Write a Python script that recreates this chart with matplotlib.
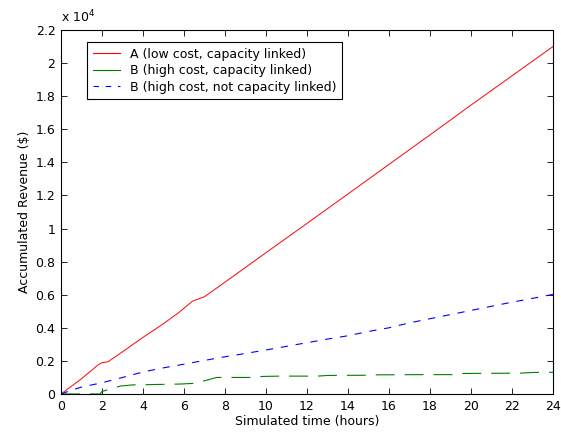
import matplotlib
matplotlib.use("Agg")
import matplotlib.pyplot as plt
from matplotlib.lines import Line2D

plt.rcParams['font.family'] = ['DejaVu Sans']
plt.rcParams['mathtext.default'] = 'regular'

# revenue curves (hours, $)
hours_a = [0, 1, 1.8, 2.0, 2.3, 3, 4, 5, 5.8, 6.4, 7.0, 8, 10, 12, 14, 15.5, 18, 20, 22, 24]
rev_a = [0, 920, 1750, 1890, 1950, 2550, 3420, 4250, 4970, 5600, 5880, 6760, 8540, 10310, 12090, 13430, 15660, 17460, 19230, 21000]

hours_b = [0, 1.2, 1.9, 2.0, 2.9, 3.5, 4.0, 5.8, 6.6, 7.0, 7.6, 9.6, 9.8, 10.7, 12.5, 13.0, 13.7, 15.0, 15.5, 16.1, 17.5, 19.1, 19.5, 21.0, 22.4, 23.0, 24.0]
rev_b = [0, 0, 0, 150, 480, 550, 560, 600, 650, 800, 1000, 1000, 1060, 1080, 1080, 1120, 1130, 1130, 1160, 1160, 1170, 1170, 1240, 1250, 1260, 1300, 1310]

hours_c = [0, 0.5, 1, 2, 3, 4, 5, 6, 7, 8, 9, 10, 11, 12, 13, 14, 15, 16, 17, 18, 19, 20, 21, 22, 23, 24]
rev_c = [0, 220, 420, 680, 1000, 1330, 1580, 1800, 2030, 2250, 2450, 2660, 2880, 3100, 3320, 3520, 3780, 4000, 4300, 4550, 4800, 5050, 5300, 5550, 5780, 6020]

xticks = list(range(0, 25, 2))
yticks = [i * 0.2 for i in range(12)]

fs = 9

fig = plt.figure(figsize=(5.61, 4.33), dpi=100)
ax = fig.add_axes([0.1087, 0.0901, 0.877, 0.8406])

ax.plot(hours_a, [v / 1e4 for v in rev_a], color='#ff0000', linewidth=0.7)
ax.plot(hours_b, [v / 1e4 for v in rev_b], color='#008000', linewidth=0.8,
        dashes=(17, 9))
ax.plot(hours_c, [v / 1e4 for v in rev_c], color='#0000ff', linewidth=0.8,
        dashes=(6.5, 7))

ax.set_xlim(0, 24)
ax.set_ylim(0, 2.2)
ax.set_xticks(xticks)
ax.set_yticks(yticks)
ax.set_yticklabels(['0' if t == 0 else ('%g' % round(t, 1)) for t in yticks])
ax.tick_params(direction='in', top=True, right=True, length=4, width=0.6,
               labelsize=fs, pad=4)
for s in ax.spines.values():
    s.set_linewidth(0.8)

ax.set_xlabel('Simulated time (hours)', fontsize=fs, labelpad=2)
ax.set_ylabel('Accumulated Revenue (\\$)', fontsize=fs, labelpad=3)
ax.text(0, 1.012, 'x 10$^4$', transform=ax.transAxes, fontsize=fs,
        ha='left', va='bottom')

handles = [
    Line2D([], [], color='#ff0000', linewidth=0.8),
    Line2D([], [], color='#008000', linewidth=0.8),
    Line2D([], [], color='#0000ff', linewidth=0.8, dashes=(5, 6)),
]
labels = ['A (low cost, capacity linked)',
          'B (high cost, capacity linked)',
          'B (high cost, not capacity linked)']
leg = ax.legend(handles, labels, loc='upper left', bbox_to_anchor=(0.053, 0.967),
                fontsize=fs, frameon=True, fancybox=False, framealpha=1,
                edgecolor='black', handlelength=2.2, borderpad=0.45,
                labelspacing=0.28, handletextpad=0.8, borderaxespad=0)
leg.get_frame().set_linewidth(0.8)

fig.savefig('out.png', dpi=100, facecolor='white')
